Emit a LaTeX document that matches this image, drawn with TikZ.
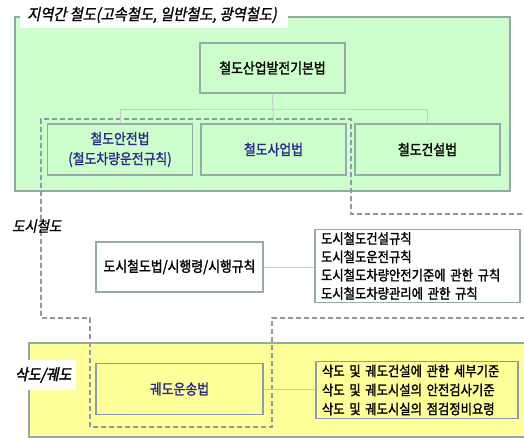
\documentclass[tikz,border=0pt]{standalone}
\usepackage{fontspec}
\setmainfont[FakeStretch=0.88,FakeBold=1.6]{Noto Sans CJK KR}
\newfontfamily\cjkit[FakeSlant=0.2,FakeStretch=0.9,FakeBold=1.2]{Noto Sans CJK KR}
\newfontfamily\cjkitb[FakeSlant=0.2,FakeStretch=0.9,FakeBold=2.2]{Noto Sans CJK KR}
\usetikzlibrary{positioning}
\definecolor{greenfill}{HTML}{CCFFCC}
\definecolor{yellowfill}{HTML}{FFFF99}
\definecolor{frameline}{HTML}{93A8A8}
\definecolor{boxline}{HTML}{96AAAA}
\definecolor{navytext}{HTML}{2B2A8A}
\definecolor{dashline}{HTML}{8C9CA4}
\definecolor{yboxline}{HTML}{8A9AB8}
\definecolor{linkline}{HTML}{C4CCCC}
\tikzset{
  lawbox/.style={draw=boxline, line width=1.2pt, minimum width=#1, minimum height=50pt, inner sep=2pt, align=center, font=\fontsize{14.6}{20}\selectfont},
  listbox/.style={draw=boxline, line width=1.2pt, fill=white, inner xsep=6pt, inner ysep=3pt, text width=#1, align=left, font=\fontsize{14}{18.3}\selectfont},
  grouplabel/.style={font=\cjkit\fontsize{14.8}{16}\selectfont, inner sep=0pt},
  linkl/.style={draw=linkline, line width=1pt},
  dashl/.style={draw=dashline, line width=1.3pt, dash pattern=on 5pt off 3pt}
}
\begin{document}
\begin{tikzpicture}[x=1pt,y=-1pt]
\useasboundingbox (0,0) rectangle (524,439);
% regional railway frame
\draw[fill=greenfill, draw=frameline, line width=2pt] (15,17) rectangle (510,191);
\node[fill=white, minimum width=268pt, minimum height=25pt, inner sep=0pt] (tl) at (154,15.5) {};
\node[grouplabel, font=\cjkit\fontsize{15.8}{17}\selectfont, anchor=west] (tlt) at (27,15) {지역간 철도(고속철도, 일반철도, 광역철도)};
% yellow frame
\draw[fill=yellowfill, draw=frameline, line width=2pt] (29,343) rectangle (530,437);
% dashed region
\draw[dashl] (530,214) -- (351,214) -- (351,119) -- (41,119) -- (41,318) -- (90,318) -- (90,427) -- (272,427) -- (272,318) -- (530,318);
% top tree
\node[lawbox=145pt, fill=greenfill] (top) at (272.5,68) {철도산업발전기본법};
\node[lawbox=145pt, minimum height=51pt, fill=greenfill, text=navytext] (c1) at (120,149.5) {철도안전법\\(철도차량운전규칙)};
\node[lawbox=145pt, minimum height=51pt, fill=greenfill, text=navytext] (c2) at (273.5,149.5) {철도사업법};
\node[lawbox=145pt, minimum height=51pt, fill=greenfill] (c3) at (427.5,149.5) {철도건설법};
\coordinate (j) at (274,109);
\draw[linkl] (top.south) -- (c2.north);
\draw[linkl] (c1.north) |- (j) -| (c3.north);
% urban railway
\node[grouplabel, anchor=west] (ul) at (12,226) {도시철도};
\node[lawbox=167pt, fill=white] (ulaw) at (179.5,267) {도시철도법/시행령/시행규칙};
\node[listbox=193pt] (ulist) at (417.5,266) {도시철도건설규칙\\도시철도운전규칙\\도시철도차량안전기준에 관한 규칙\\도시철도차량관리에 관한 규칙};
\draw[linkl] (ulaw.east) -- (ulaw.east -| ulist.west);
% cableway / track
\node[fill=white, minimum width=61pt, minimum height=30pt, inner sep=0pt] (kb) at (45.5,375) {};
\node[grouplabel, font=\cjkitb\fontsize{15.3}{16}\selectfont, anchor=west] (kl) at (15,375) {삭도/궤도};
\node[lawbox=167pt, minimum height=51pt, fill=yellowfill, draw=yboxline, text=navytext] (klaw) at (179.5,389) {궤도운송법};
\node[listbox=190pt, fill=yellowfill, draw=yboxline, font=\fontsize{14}{19}\selectfont] (klist) at (417,390) {삭도 및 궤도건설에 관한 세부기준\\삭도 및 궤도시설의 안전검사기준\\삭도 및 궤도시실의 점검정비요령};
\draw[linkl] (klaw.east) -- (klaw.east -| klist.west);
\end{tikzpicture}
\end{document}
